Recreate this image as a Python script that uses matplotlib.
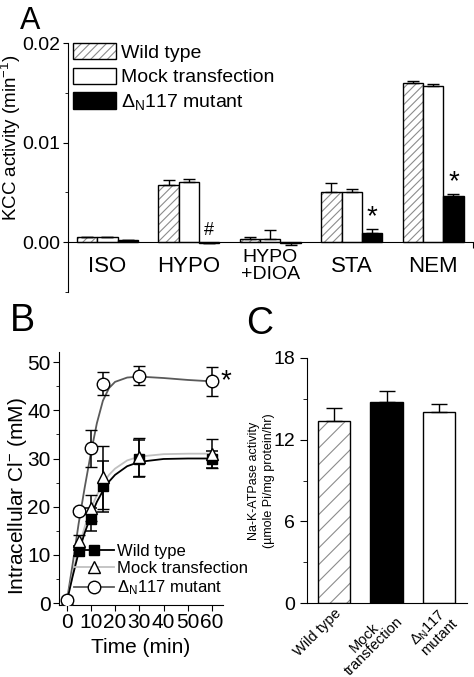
import matplotlib
matplotlib.use("Agg")
import matplotlib.pyplot as plt
from matplotlib.lines import Line2D
from matplotlib.ticker import MultipleLocator
import numpy as np

plt.rcParams["font.family"] = ["Liberation Sans", "DejaVu Sans"]
plt.rcParams["mathtext.fontset"] = "custom"
plt.rcParams["mathtext.rm"] = "Liberation Sans"
plt.rcParams["mathtext.it"] = "Liberation Sans:italic"
plt.rcParams["hatch.linewidth"] = 0.8

# ── Panel A: KCC activity ─────────────────────────────────
conditions = ["ISO", "HYPO", "HYPO\n+DIOA", "STA", "NEM"]
kcc_wt = [0.0005, 0.0057, 0.0003, 0.0050, 0.0160]
kcc_wt_err = [0.00005, 0.0005, 0.0002, 0.0009, 0.0002]
kcc_mock = [0.0005, 0.0060, 0.0003, 0.0050, 0.0157]
kcc_mock_err = [0.00005, 0.0003, 0.0009, 0.0003, 0.0002]
kcc_mut = [0.0002, -0.0001, -0.0001, 0.0009, 0.0046]
kcc_mut_err = [0.00003, 0.00003, 0.0002, 0.0004, 0.0002]
kcc_marks = ["", "#", "", "*", "*"]

# ── Panel B: intracellular Cl- time course ────────────────
time_min = [0, 5, 10, 15, 30, 60]
cl_wt = [0.5, 10.8, 17.4, 24.2, 30.0, 29.8]
cl_wt_err = [0, 1.0, 2.4, 5.3, 3.8, 1.7]
cl_mock = [0.7, 12.8, 19.7, 26.1, 30.3, 31.0]
cl_mock_err = [0, 1.4, 2.7, 6.5, 4.0, 3.0]
cl_mut = [0.7, 19.1, 32.1, 45.5, 47.2, 46.0]
cl_mut_err = [0, 0.7, 3.9, 2.4, 2.0, 3.0]
# fitted curves
fit_t = [0, 2.5, 5, 7.5, 10, 12.5, 15, 17.5, 20, 25, 30, 40, 50, 60]
fit_wt = [0, 5.5, 10.5, 14.6, 18.0, 21.0, 23.3, 25.2, 26.6, 28.4, 29.3, 29.9, 30.0, 30.0]
fit_mock = [0, 6.0, 11.5, 15.8, 19.5, 22.4, 24.8, 26.6, 27.9, 29.6, 30.4, 30.9, 31.0, 31.0]
fit_mut = [0, 8.0, 16.5, 24.0, 31.0, 37.3, 42.0, 44.6, 45.9, 46.8, 47.0, 46.7, 46.3, 46.0]

# ── Panel C: Na-K-ATPase ──────────────────────────────────
c_labels = ["Wild type", "Mock\ntransfection", "$\\Delta_{\\rm N}$117\nmutant"]
atpase = [13.4, 14.8, 14.0]
atpase_err = [0.9, 0.8, 0.6]

MUT = "$\\Delta_{\\rm N}$117 mutant"
W, H = 474, 677
fig = plt.figure(figsize=(W / 100, H / 100), dpi=100)


def rect(l, t, r, b):
    return [l / W, 1 - b / H, (r - l) / W, (b - t) / H]


def one_sided(vals, errs):
    lo = [e if v < 0 else 0 for v, e in zip(vals, errs)]
    hi = [0 if v < 0 else e for v, e in zip(vals, errs)]
    return [lo, hi]


# ── A ─────────────────────────────────────────────────────
ax = fig.add_axes(rect(68, 43, 473, 292))
x = np.arange(len(conditions))
bw = 0.25
hx = ax.bar(x - bw, kcc_wt, bw, color="white", hatch="////", edgecolor="#8c8c8c", lw=0)
ex = ax.bar(x - bw, kcc_wt, bw, fill=False, edgecolor="k", lw=1)
mk = ax.bar(x, kcc_mock, bw, color="white", edgecolor="k", lw=1)
mu = ax.bar(x + bw, kcc_mut, bw, color="black", edgecolor="k", lw=1)
for off, v, e in [(-bw, kcc_wt, kcc_wt_err), (0, kcc_mock, kcc_mock_err), (bw, kcc_mut, kcc_mut_err)]:
    ax.errorbar(x + off, v, yerr=one_sided(v, e), fmt="none", ecolor="k",
                elinewidth=1, capsize=4.5, capthick=1)
for i, m in enumerate(kcc_marks):
    if m == "*":
        ax.text(x[i] + bw, kcc_mut[i] + kcc_mut_err[i] + 0.0012, m, ha="center",
                va="center", fontsize=20)
    elif m:
        ax.text(x[i] + bw, kcc_mut[i] + 0.0013, m, ha="center", va="center", fontsize=13)
for i, c in enumerate(conditions):
    ax.text(x[i], -0.0024, c, ha="center", va="center",
            fontsize=14 if "\n" in c else 16, linespacing=1.0)
ax.set_xlim(-0.485, 4.49)
ax.set_ylim(-0.005, 0.02)
for s in ["top", "right"]:
    ax.spines[s].set_visible(False)
ax.spines["bottom"].set_position(("data", 0))
ax.set_xticks([4.49])
ax.set_xticklabels([""])
ax.tick_params(axis="x", direction="out", length=4)
ax.set_yticks([0, 0.01, 0.02])
ax.set_yticklabels(["0.00", "0.01", "0.02"])
ax.yaxis.set_minor_locator(MultipleLocator(0.005))
ax.tick_params(axis="y", which="major", labelsize=14, length=3.5, pad=2)
ax.tick_params(axis="y", which="minor", length=2)
ax.set_ylabel("KCC activity (min$^{-1}$)", fontsize=13.5)
ax.yaxis.set_label_coords(-0.11, 0.62)
ax.legend([(hx[0], ex[0]), mk[0], mu[0]], ["Wild type", "Mock transfection", MUT],
          loc="upper left", bbox_to_anchor=(0.012, 1.0), frameon=False, fontsize=14,
          handlelength=2.2, handleheight=0.9, handletextpad=0.3, labelspacing=0.3,
          borderpad=0, borderaxespad=0)
fig.text(20 / W, 1 - 6 / H, "A", fontsize=22, ha="left", va="top")

# ── B ─────────────────────────────────────────────────────
ax = fig.add_axes(rect(59, 352, 223, 605))
ax.plot(fit_t, fit_mut, color="#5a5a5a", lw=1.3, zorder=1)
ax.plot(fit_t, fit_mock, color="#c0c0c0", lw=1.3, zorder=1)
ax.plot(fit_t, fit_wt, color="black", lw=1.3, zorder=1)
ax.errorbar(time_min, cl_wt, yerr=cl_wt_err, fmt="s", ms=6.5, mfc="black", mec="black",
            ecolor="k", elinewidth=1.1, capsize=4, capthick=1.1, zorder=3)
ax.errorbar(time_min, cl_mock, yerr=cl_mock_err, fmt="^", ms=9, mfc="white", mec="black",
            mew=1, ecolor="k", elinewidth=1.1, capsize=4, capthick=1.1, zorder=3)
ax.errorbar(time_min, cl_mut, yerr=cl_mut_err, fmt="o", ms=9, mfc="white", mec="black",
            mew=1, ecolor="k", elinewidth=1.1, capsize=4, capthick=1.1, zorder=3)
ax.text(65.5, cl_mut[-1], "*", ha="center", va="center", fontsize=20, clip_on=False)
ax.set_xlim(-3.1, 64.5)
ax.set_ylim(-0.4, 52.1)
for s in ["top", "right"]:
    ax.spines[s].set_visible(False)
ax.set_xticks(range(0, 61, 10))
ax.set_yticks(range(0, 51, 10))
ax.yaxis.set_minor_locator(MultipleLocator(5))
ax.tick_params(which="major", labelsize=15, length=4, pad=2)
ax.tick_params(which="minor", length=2.5)
ax.set_xlabel("Time (min)", fontsize=15, labelpad=4)
ax.set_ylabel("Intracellular Cl$^{-}$ (mM)", fontsize=15)
ax.yaxis.set_label_coords(-0.18, 0.43)
hb = [Line2D([], [], color="black", lw=1.3, marker="s", ms=6.5, mfc="black", mec="black"),
      Line2D([], [], color="#c0c0c0", lw=1.3, marker="^", ms=9, mfc="white", mec="black"),
      Line2D([], [], color="#5a5a5a", lw=1.3, marker="o", ms=9, mfc="white", mec="black")]
ax.legend(hb, ["Wild type", "Mock transfection", MUT], loc="lower left",
          bbox_to_anchor=(0.09, 0.03), frameon=False, fontsize=12, handlelength=2.4,
          handletextpad=0.2, labelspacing=0.15, borderpad=0, borderaxespad=0)
fig.text(10 / W, 1 - 303 / H, "B", fontsize=27, ha="left", va="top")

# ── C ─────────────────────────────────────────────────────
ax = fig.add_axes(rect(307, 358, 467, 603))
xc = np.arange(len(c_labels))
cw = 0.62
ax.bar(xc[:1], atpase[:1], cw, color="white", hatch="//", edgecolor="#8c8c8c", lw=0)
ax.bar(xc, atpase, cw, color=["none", "black", "white"], edgecolor="k", lw=1)
ax.errorbar(xc, atpase, yerr=[[0] * len(atpase), atpase_err], fmt="none", ecolor="k",
            elinewidth=1, capsize=6, capthick=1)
ax.set_xlim(-0.514, 2.533)
ax.set_ylim(0, 18)
for s in ["top", "right"]:
    ax.spines[s].set_visible(False)
ax.set_yticks([0, 6, 12, 18])
ax.yaxis.set_minor_locator(MultipleLocator(3))
ax.tick_params(axis="y", which="major", labelsize=14, length=5)
ax.tick_params(axis="y", which="minor", length=3)
ax.set_xticks(xc)
ax.set_xticklabels(c_labels, rotation=45, ha="right", va="top", rotation_mode="anchor",
                   multialignment="center", fontsize=10.5, linespacing=0.9)
ax.tick_params(axis="x", length=0, pad=2)
ax.set_ylabel("Na-K-ATPase activity\n(\u00b5mole Pi/mg protein/hr)", fontsize=9,
              linespacing=1.3)
ax.yaxis.set_label_coords(-0.20, 0.5)
fig.text(246 / W, 1 - 306 / H, "C", fontsize=27, ha="left", va="top")

fig.savefig("out.png", dpi=100)
